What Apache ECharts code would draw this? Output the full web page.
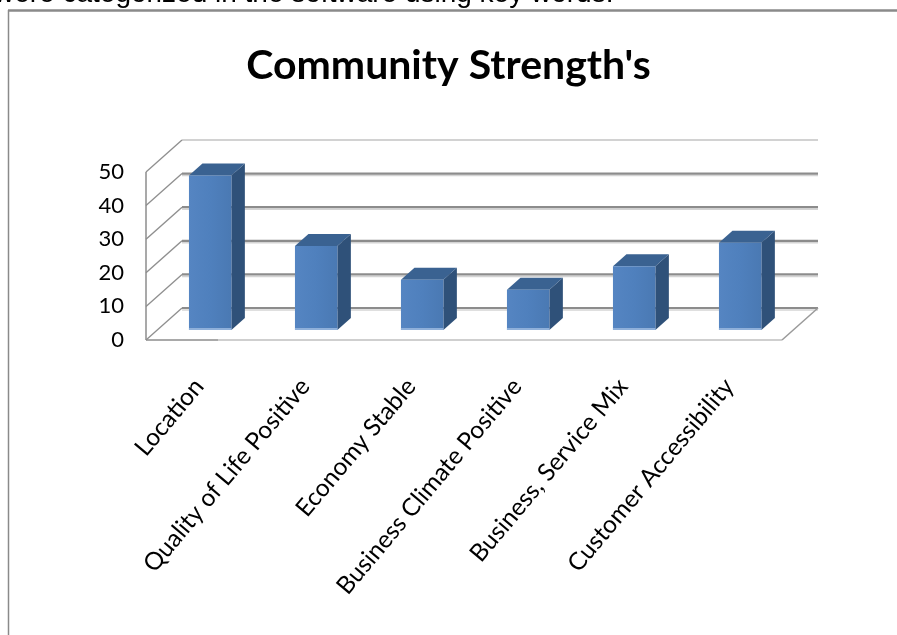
<!DOCTYPE html>
<html>
<head>
<meta charset="utf-8">
<title>Community Strength's</title>
<script src="https://cdn.jsdelivr.net/npm/echarts@6/dist/echarts.min.js"></script>
<style>
  html, body { margin: 0; padding: 0; background: #ffffff; }
  #chart { width: 897px; height: 635px; }
</style>
</head>
<body>
<div id="chart"></div>
<script>
// Survey responses grouped by key word
const categories = [
  'Location',
  'Quality of Life Positive',
  'Economy Stable',
  'Business Climate Positive',
  'Business, Service Mix',
  'Customer Accessibility'
];
const counts = [46, 25, 15, 12, 19, 26];
const yTicks = [0, 10, 20, 30, 40, 50];

// Depth of the 3D box (back wall offset from the front plane)
const DX = 36, DY = 32;
// Bars start this far into the depth and are this deep
const BAR_FRONT = 0.31, BAR_DEPTH = 0.375, BAR_WIDTH = 0.40;

const chart = echarts.init(document.getElementById('chart'), null, { renderer: 'canvas' });

function wallItem(params, api) {
  const v = api.value(1);
  const cs = params.coordSys;
  const x0 = cs.x, x1 = cs.x + cs.width;
  const y = api.coord([0, v])[1];
  const yMax = api.coord([0, yTicks[yTicks.length - 1]])[1];
  const yMin = api.coord([0, yTicks[0]])[1];
  const isTop = v === yTicks[yTicks.length - 1];
  const isBase = v === yTicks[0];
  const children = [];
  // back wall gridline with a soft shadow under it
  if (!isTop) {
    children.push({
      type: 'line',
      shape: { x1: x0 + DX, y1: y - DY + 2, x2: x1 + DX, y2: y - DY + 2 },
      style: { stroke: '#d4d4d4', lineWidth: 1.5 }
    });
  }
  children.push({
    type: 'line',
    shape: { x1: x0 + DX, y1: y - DY, x2: x1 + DX, y2: y - DY },
    style: { stroke: isTop ? '#a6a6a6' : '#8c8c8c', lineWidth: isTop ? 1.2 : 2.2 }
  });
  // side wall diagonal
  children.push({
    type: 'line',
    shape: { x1: x0, y1: y, x2: x0 + DX, y2: y - DY },
    style: { stroke: '#8f8f8f', lineWidth: 1.4 }
  });
  if (isBase) {
    // floor front edge and right edge
    children.push({
      type: 'line',
      shape: { x1: x0 + 72, y1: y, x2: x1, y2: y },
      style: { stroke: '#cfcfcf', lineWidth: 2 }
    });
    children.push({
      type: 'line',
      shape: { x1: x0, y1: y, x2: x0 + 72, y2: y },
      style: { stroke: '#8c8c8c', lineWidth: 1.5 }
    });
    children.push({
      type: 'line',
      shape: { x1: x1, y1: y, x2: x1 + DX, y2: y - DY },
      style: { stroke: '#9a9a9a', lineWidth: 1.5 }
    });
  }
  if (isTop) {
    // front vertical edge of the side wall
    children.push({
      type: 'line',
      shape: { x1: x0, y1: yMax, x2: x0, y2: yMin },
      style: { stroke: '#8c8c8c', lineWidth: 1.5 }
    });
  }
  return { type: 'group', children: children };
}

function barItem(params, api) {
  const i = api.value(0);
  const v = api.value(1);
  const top = api.coord([i, v]);
  const base = api.coord([i, 0]);
  const band = api.size([1, 0])[0];
  const w = band * BAR_WIDTH;
  const fx = BAR_FRONT * DX, fy = BAR_FRONT * DY;
  const bx = BAR_DEPTH * DX, by = BAR_DEPTH * DY;
  const L = top[0] - w / 2 + fx, R = L + w;
  const T = top[1] - fy, B = base[1] - fy;
  return {
    type: 'group',
    children: [
      {
        type: 'polygon',
        shape: { points: [[R, T], [R + bx, T - by], [R + bx, B - by], [R, B]] },
        style: { fill: '#2f5179' }
      },
      {
        type: 'polygon',
        shape: { points: [[L, T], [R, T], [R + bx, T - by], [L + bx, T - by]] },
        style: { fill: '#3a6291' }
      },
      {
        type: 'rect',
        shape: { x: L, y: T, width: w, height: B - T },
        style: {
          fill: new echarts.graphic.LinearGradient(0, 0, 1, 0, [
            { offset: 0, color: '#5585c2' },
            { offset: 0.5, color: '#4f80bd' },
            { offset: 1, color: '#4a79b3' }
          ])
        }
      },
      {
        type: 'line',
        shape: { x1: L, y1: B - 1, x2: R, y2: B - 1 },
        style: { stroke: '#8fb0da', lineWidth: 2 }
      }
    ]
  };
}

const option = {
  backgroundColor: '#ffffff',
  animation: false,
  title: {
    text: "Community Strength's",
    left: 'center',
    top: 40,
    textStyle: { fontFamily: 'Lato', fontWeight: 'bold', fontSize: 41, color: '#000000' }
  },
  grid: { left: 146, right: 115, top: 172, bottom: 295, containLabel: false },
  xAxis: {
    type: 'category',
    data: categories,
    axisLine: { show: false },
    axisTick: { show: false },
    splitLine: { show: false },
    axisLabel: {
      interval: 0,
      rotate: 50,
      margin: 42,
      fontFamily: 'Lato',
      fontSize: 24.5,
      color: '#000000'
    }
  },
  yAxis: {
    type: 'value',
    min: 0,
    max: 50,
    interval: 10,
    axisLine: { show: false },
    axisTick: { show: false },
    splitLine: { show: false },
    axisLabel: { margin: 22, fontFamily: 'Lato', fontSize: 22, color: '#000000' }
  },
  graphic: [
    {
      type: 'text',
      left: -6,
      top: -20,
      style: {
        text: 'were categorized in the software using key words.',
        fontFamily: 'Liberation Sans',
        fontSize: 28,
        fill: '#000000'
      }
    },
    {
      type: 'line',
      shape: { x1: 8, y1: 10.5, x2: 897, y2: 10.5 },
      style: { stroke: '#8a8a8a', lineWidth: 2.5 }
    },
    {
      type: 'line',
      shape: { x1: 8.5, y1: 10, x2: 8.5, y2: 635 },
      style: { stroke: '#8a8a8a', lineWidth: 1.5 }
    }
  ],
  series: [
    {
      type: 'custom',
      name: 'walls',
      z: 1,
      silent: true,
      renderItem: wallItem,
      data: yTicks.map(function (v) { return [0, v]; })
    },
    {
      type: 'custom',
      name: 'Count',
      z: 2,
      renderItem: barItem,
      data: counts.map(function (v, i) { return [i, v]; })
    }
  ]
};

chart.setOption(option);
</script>
</body>
</html>
